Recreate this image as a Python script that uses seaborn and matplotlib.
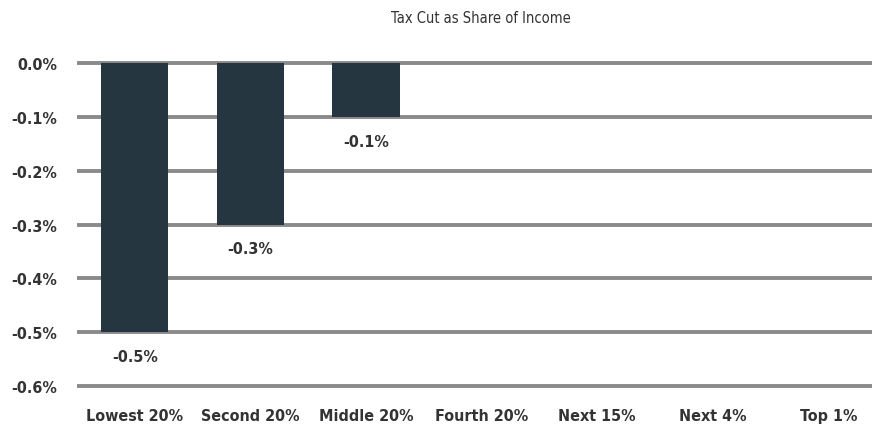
import pandas as pd
import seaborn as sns
import matplotlib.pyplot as plt

# data
groups = ["Lowest 20%", "Second 20%", "Middle 20%", "Fourth 20%", "Next 15%", "Next 4%", "Top 1%"]
tax_cut = [-0.5, -0.3, -0.1, 0.0, 0.0, 0.0, 0.0]
y_ticks = [0.0, -0.1, -0.2, -0.3, -0.4, -0.5, -0.6]

df = pd.DataFrame({"group": groups, "tax_cut": tax_cut})

sns.set_style("white")
plt.rcParams['font.family'] = ['DejaVu Sans']
plt.rcParams['font.stretch'] = 'condensed'

fig = plt.figure(figsize=(8.72, 4.27), dpi=100)
ax = fig.add_axes([0.0883, 0.081, 0.928, 0.7817])

sns.barplot(data=df, x="group", y="tax_cut", color="#263640", saturation=1,
            width=0.58, linewidth=0, ax=ax, zorder=3)

ax.set_ylim(-0.61, 0.01)
ax.set_yticks(y_ticks)
ax.set_yticklabels([f"{v:.1f}%" for v in y_ticks])
ax.yaxis.grid(True, color="#8a8a8a", linewidth=2.8, zorder=1)
ax.xaxis.grid(False)
for s in ax.spines.values():
    s.set_visible(False)

ax.tick_params(axis="y", length=0, pad=14, labelsize=11.5, labelcolor="#333333")
ax.tick_params(axis="x", length=0, pad=12, labelsize=11.5, labelcolor="#333333")
for lbl in ax.get_xticklabels() + ax.get_yticklabels():
    lbl.set_fontweight("bold")
ax.set_xlabel("")
ax.set_ylabel("")

# value labels under the bars
for i, v in enumerate(tax_cut):
    if v != 0:
        ax.annotate(f"{v:.1f}%", (i, v), xytext=(0, -12), textcoords="offset points",
                    ha="center", va="top", fontsize=11.5, fontweight="bold", color="#333333")

fig.text(0.551, 0.957, "Tax Cut as Share of Income", ha="center", va="center",
         fontsize=10.5, color="#333333")

fig.savefig("out.png", dpi=100)
